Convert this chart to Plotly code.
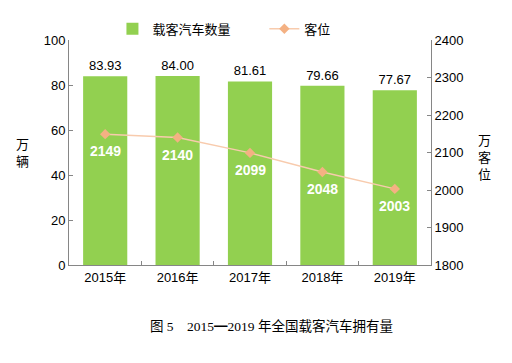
import plotly.graph_objects as go

years = ["2015年", "2016年", "2017年", "2018年", "2019年"]
vehicles = [83.93, 84.00, 81.61, 79.66, 77.67]
seats = [2149, 2140, 2099, 2048, 2003]

font_main = "Liberation Sans, Arial, Noto Sans CJK SC"
axis_col = "#868686"

fig = go.Figure()
fig.add_trace(go.Bar(
    x=years, y=vehicles, name="载客汽车数量" + "\u00a0" * 8,
    marker=dict(color="#92D050", line=dict(width=0)),
    width=0.61,
    text=[f"{v:.2f}" for v in vehicles], textposition="outside",
    textfont=dict(size=13, color="#000000", family=font_main),
    cliponaxis=False,
))
fig.add_trace(go.Scatter(
    x=years, y=seats, name="客位", yaxis="y2", mode="lines+markers",
    line=dict(color="#F8CBAD", width=1.5),
    marker=dict(symbol="diamond", size=8, color="#F4B183"),
))

for yr, s in zip(years, seats):
    fig.add_annotation(x=yr, y=s, yref="y2", text=f"<b>{s}</b>", showarrow=False,
                       yshift=-17, font=dict(size=14, color="white", family=font_main))

fig.add_annotation(x=-0.152, y=0.5, xref="paper", yref="paper", text="万<br>辆",
                   showarrow=False, font=dict(size=13, color="#000", family=font_main))
fig.add_annotation(x=1.172, y=0.48, xref="paper", yref="paper", text="万<br>客<br>位",
                   showarrow=False, font=dict(size=13, color="#000", family=font_main))
fig.add_annotation(x=0.56, y=-0.27, xref="paper", yref="paper",
                   text="图 5　2015━2019 年全国载客汽车拥有量", showarrow=False,
                   yanchor="middle",
                   font=dict(size=13.5, color="#000", family="Liberation Serif, Noto Sans CJK SC"))

fig.update_layout(
    width=504, height=355,
    margin=dict(l=61, r=81, t=32, b=98, autoexpand=False),
    paper_bgcolor="white", plot_bgcolor="white",
    font=dict(family=font_main, size=13, color="#000"),
    showlegend=True,
    legend=dict(orientation="h", x=0.12, y=1.05, xanchor="left", yanchor="middle",
                font=dict(size=13), itemwidth=30,
                tracegroupgap=0, bgcolor="rgba(0,0,0,0)"),
    xaxis=dict(showline=True, linecolor=axis_col, linewidth=1, ticks="inside",
               tickson="boundaries", ticklen=4, tickcolor=axis_col, showgrid=False,
               tickfont=dict(size=13)),
    yaxis=dict(range=[0, 100], dtick=20, showline=True, linecolor=axis_col, linewidth=1,
               ticks="inside", ticklen=4, tickcolor=axis_col, showgrid=False, zeroline=False,
               tickfont=dict(size=13)),
    yaxis2=dict(range=[1800, 2400], dtick=100, overlaying="y", side="right", showline=True,
                linecolor=axis_col, linewidth=1, ticks="inside", ticklen=4, tickcolor=axis_col,
                showgrid=False, zeroline=False, tickfont=dict(size=13)),
    bargap=0.39,
)
fig.write_html("out.html")
